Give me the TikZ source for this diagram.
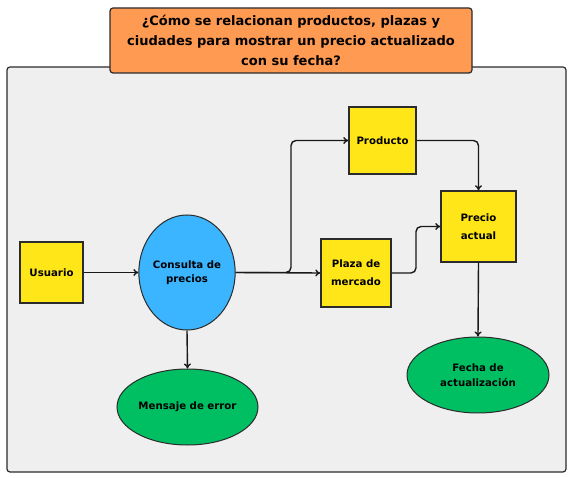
\documentclass[tikz,border=0pt]{standalone}
\usepackage{fontspec}
\setmainfont{DejaVu Sans}
\usetikzlibrary{shapes.geometric,arrows.meta}
\definecolor{panelgray}{HTML}{EFEFEF}
\definecolor{titleorange}{HTML}{FF9A52}
\definecolor{boxyellow}{HTML}{FFE619}
\definecolor{ovalblue}{HTML}{3BB5FF}
\definecolor{ovalgreen}{HTML}{00BF63}
\definecolor{edgedark}{HTML}{2B2B2B}
\tikzset{
  every node/.style={font=\bfseries\fontsize{10.2}{14.5}\selectfont, align=center, text=black},
  yellowbox/.style={draw=edgedark, line width=1.4pt, fill=boxyellow, inner sep=0pt, font=\bfseries\fontsize{10.2}{18}\selectfont},
  blueoval/.style={ellipse, draw=edgedark, line width=1pt, fill=ovalblue, inner sep=0pt},
  greenoval/.style={ellipse, draw=edgedark, line width=1pt, fill=ovalgreen, inner sep=0pt},
  conn/.style={draw=black!90, line width=1.4pt, -{To[length=5pt,width=7pt]}, rounded corners=5pt},
}
\begin{document}
\begin{tikzpicture}[x=1pt,y=-1pt]
\useasboundingbox (0,0) rectangle (568,478);
% panel
\draw[fill=panelgray, draw=edgedark, line width=1.2pt, rounded corners=3pt] (7,67) rectangle (566,472);
% title
\node[draw=edgedark, line width=1.2pt, fill=titleorange, rounded corners=3pt, minimum width=362pt, minimum height=65pt, inner sep=0pt,
      font=\bfseries\fontsize{13}{20}\selectfont] (title) at (291,40.5)
  {¿Cómo se relacionan productos, plazas y\\ciudades para mostrar un precio actualizado\\con su fecha?};
% nodes
\node[yellowbox, minimum width=63pt, minimum height=61pt] (usr) at (51.5,272.5) {Usuario};
\node[blueoval, minimum width=92pt, minimum height=115pt] (cons) at (187,272.5) {Consulta de\\precios};
\node[yellowbox, minimum width=67pt, minimum height=67pt] (prod) at (382.5,140.5) {Producto};
\node[yellowbox, minimum width=70pt, minimum height=68pt] (plaza) at (356,273) {Plaza de\\mercado};
\node[yellowbox, minimum width=75pt, minimum height=71pt] (prec) at (478.5,226.5) {Precio\\actual};
\node[greenoval, minimum width=141pt, minimum height=76pt] (err) at (187.5,407) {Mensaje de error};
\node[greenoval, minimum width=142pt, minimum height=76pt] (fecha) at (478,375) {Fecha de\\actualización};
% connectors
\coordinate (split) at (291,272.5);
\coordinate (bend) at (416,273);
\draw[conn] (usr.east) -- (cons.west);
\draw[conn] (cons.east) -- (plaza.west);
\draw[conn] (cons.east) -- (split) |- (prod.west);
\draw[conn] (prod.east) -| (prec.north);
\draw[conn] (plaza.east) -- (bend) |- (prec.west);
\draw[conn] (prec.south) -- (fecha.north);
\draw[conn] (cons.south) -- (err.north);
\end{tikzpicture}
\end{document}
